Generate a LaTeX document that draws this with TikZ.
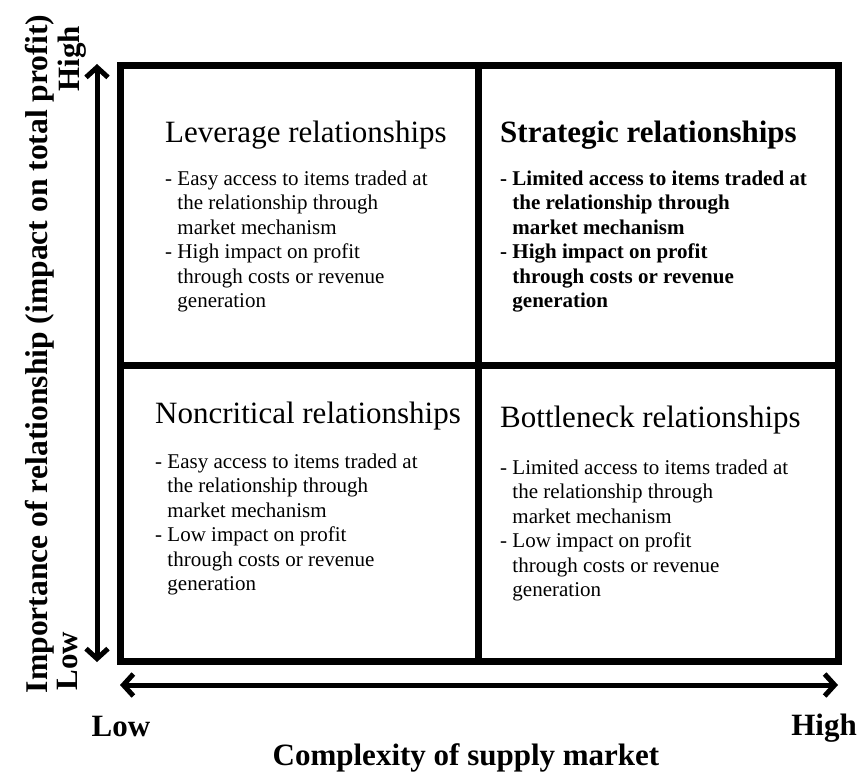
\documentclass[tikz,border=0pt]{standalone}
\usepackage{fontspec}
\setmainfont{Liberation Serif}
\usetikzlibrary{arrows.meta}
\newcommand{\cont}{\phantom{- }}
\begin{document}
\begin{tikzpicture}[x=1pt,y=-1pt,
  gridline/.style={line width=7pt},
  axisarrow/.style={line width=5pt,{Straight Barb[length=10pt,width=22pt]}-{Straight Barb[length=10pt,width=22pt]}},
  qtitle/.style={anchor=base west,inner sep=0pt,font=\fontsize{31}{36}\selectfont},
  qbody/.style={anchor=base west,inner sep=0pt,font=\fontsize{21}{24.5}\selectfont},
  axlabel/.style={inner sep=0pt,anchor=base,font=\fontsize{31}{36}\selectfont\bfseries}]
\useasboundingbox (0,0) rectangle (857,776);
\fill[white] (0,0) rectangle (857,776);
% grid
\coordinate (tl) at (120,66);
\coordinate (br) at (838,661);
\coordinate (mt) at (478,66);
\coordinate (mb) at (478,661);
\coordinate (ml) at (120,365);
\coordinate (mr) at (838,365);
\draw[gridline] (tl) rectangle (br);
\draw[gridline] (mt) -- (mb);
\draw[gridline] (ml) -- (mr);
% axes
\coordinate (ytop) at (97,64);
\coordinate (ybot) at (97,662);
\coordinate (xl) at (120,685);
\coordinate (xr) at (838,685);
\draw[axisarrow] (ybot) -- (ytop);
\draw[axisarrow] (xl) -- (xr);
% axis labels
\node[axlabel,rotate=90,font=\fontsize{31.6}{36}\selectfont\bfseries] (ylab) at (47,354) {Importance of relationship (impact on total profit)};
\node[axlabel,rotate=90] (yhigh) at (79,59) {High};
\node[axlabel,rotate=90] (ylow) at (77,661) {Low};
\node[axlabel] (xlow) at (121,736) {Low};
\node[axlabel] (xhigh) at (824,735) {High};
\node[axlabel] (xlab) at (466,765) {Complexity of supply market};
% quadrants
\node[qtitle] (levt) at (165,142) {Leverage relationships};
\node[qbody] (levb) at (165,185) {\begin{tabular}[t]{@{}l@{}}
- Easy access to items traded at\\
\cont the relationship through\\
\cont market mechanism\\
- High impact on profit\\
\cont through costs or revenue\\
\cont generation\end{tabular}};
\node[qtitle,font=\fontsize{31}{36}\selectfont\bfseries] (strt) at (500,142) {Strategic relationships};
\node[qbody,font=\fontsize{21}{24.5}\selectfont\bfseries] (strb) at (500,185) {\begin{tabular}[t]{@{}l@{}}
- Limited access to items traded at\\
\cont the relationship through\\
\cont market mechanism\\
- High impact on profit\\
\cont through costs or revenue\\
\cont generation\end{tabular}};
\node[qtitle] (nont) at (155,423) {Noncritical relationships};
\node[qbody] (nonb) at (155,468) {\begin{tabular}[t]{@{}l@{}}
- Easy access to items traded at\\
\cont the relationship through\\
\cont market mechanism\\
- Low impact on profit\\
\cont through costs or revenue\\
\cont generation\end{tabular}};
\node[qtitle] (bott) at (500,427) {Bottleneck relationships};
\node[qbody] (botb) at (500,474) {\begin{tabular}[t]{@{}l@{}}
- Limited access to items traded at\\
\cont the relationship through\\
\cont market mechanism\\
- Low impact on profit\\
\cont through costs or revenue\\
\cont generation\end{tabular}};
\end{tikzpicture}
\end{document}
